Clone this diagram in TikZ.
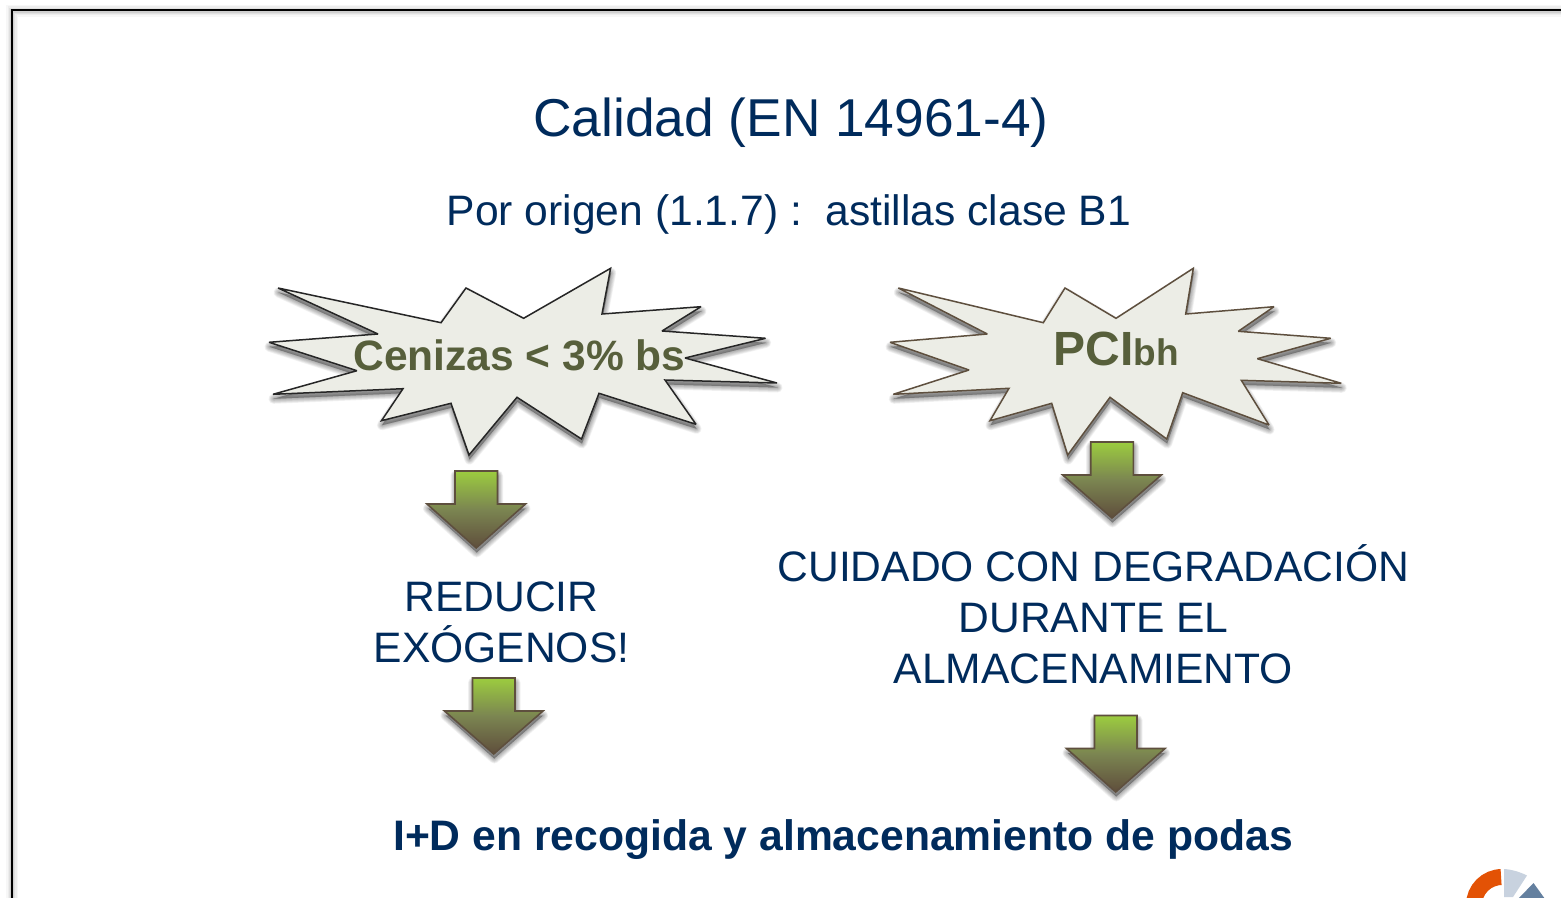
\documentclass[tikz,border=0pt]{standalone}
\usepackage{fontspec}
\setmainfont{Liberation Sans}
\usetikzlibrary{calc}
\definecolor{navy}{HTML}{002B5C}
\definecolor{olivetext}{HTML}{575F3B}
\definecolor{starfill}{HTML}{ECEDE6}
\definecolor{arrowline}{HTML}{5E4F3E}
\definecolor{arrowtop}{HTML}{9CCC3F}
\definecolor{arrowmid}{HTML}{7B8551}
\definecolor{arrowbot}{HTML}{5F4E3C}
\definecolor{logoorange}{HTML}{E35205}
\definecolor{logolight}{HTML}{C8D2DF}
\definecolor{logoblue}{HTML}{64809F}
\newcommand{\fs}[1]{\fontsize{#1}{#1}\selectfont}
\newcommand{\softshadow}[1]{%
  \foreach \r in {10,8.5,7,5.5,4,2.5,1}{
    \path[fill=black,draw=black,line width=\r pt,line join=round,opacity=0.05,transparency group] [shift={(0.5,4.5)}] #1;
  }}
\newcommand{\blockarrow}[5]{%
  \softshadow{(#1,#3) -- (#2,#3) -- (#2,#4) -- ({#2+27.5},#4) -- ({(#1+#2)/2},{#5-1}) -- ({#1-27.5},#4) -- (#1,#4) -- cycle}
  \path[arrowbody] (#1,#3) -- (#2,#3) -- (#2,#4) -- ({#2+28},#4) -- ({(#1+#2)/2},{#5-1}) -- ({#1-28},#4) -- (#1,#4) -- cycle;
}
\tikzset{
  arrowbody/.style={draw=arrowline,line width=1.6pt,line join=miter,miter limit=3,top color=arrowtop,bottom color=arrowbot,middle color=arrowmid},
  startone/.style={draw=black!85,line width=1.5pt,fill=starfill,line join=miter,miter limit=3},
  startwo/.style={draw=arrowline,line width=1.5pt,fill=starfill,line join=miter,miter limit=3},
  navytext/.style={text=navy,inner sep=0pt,align=center},
  startext/.style={text=olivetext,inner sep=0pt,font=\bfseries},
}
\begin{document}
\begin{tikzpicture}[x=1pt,y=-1pt]
\useasboundingbox (0,0) rectangle (1561,897);
\clip (0,0) rectangle (1561,897);
\fill[white] (0,0) rectangle (1561,897);
% slide frame
\foreach \r/\o in {12/0.03,9/0.04,6/0.05,4/0.07}{
  \draw[black,line width=\r pt,opacity=\o] (12,900) -- (12,10.5) -- (1565,10.5);
}
\draw[black,line width=2pt] (12,900) -- (12,9.5) -- (1565,9.5);
% titles
\node[navytext,font=\fs{53.3}] (title) at (791,123) {Calidad (EN 14961-4)};
\node[navytext,font=\fs{42.6}] (sub) at (789,214) {Por origen (1.1.7) :\ \ astillas clase B1};
% star one
\def\starA{(278,288) -- (441,322.7) -- (466,288) -- (523.6,318.3) -- (610.6,268.3) -- (602,314) -- (701,306.7) -- (662,331) -- (765.6,338.3) -- (685,358) -- (777,383) -- (665,380) -- (696,424.3) -- (599,393.3) -- (581.5,439) -- (517,397.3) -- (469,455) -- (451,403.3) -- (381.5,420.7) -- (403,388.7) -- (273,394.3) -- (357,370.7) -- (269,342.3) -- (378,334) -- cycle}
\softshadow{\starA}
\path[startone] \starA;
\node[startext,font=\fs{42.5}\bfseries] (ash) at (519.5,355) {Cenizas < 3\% bs};
% star two
\def\starB{(898.3,288) -- (1043.3,322.7) -- (1065,288) -- (1116,318.3) -- (1193.3,268.3) -- (1185.7,314) -- (1274,306.7) -- (1238.3,331.3) -- (1330.7,338.3) -- (1257.3,358.7) -- (1341.3,383.3) -- (1241.3,380.3) -- (1269,425) -- (1182.7,392.7) -- (1166.7,439) -- (1110,397.3) -- (1067.7,455) -- (1051.7,403.3) -- (990,420.7) -- (1009,388.3) -- (893.3,394.3) -- (969,370) -- (890,342.3) -- (987.3,334) -- cycle}
\softshadow{\starB}
\path[startwo] \starB;
\node[startext,anchor=base] (pci) at (1116,365) {\fs{48}\bfseries PCI\fs{37}\bfseries bh};
% arrows
\blockarrow{455}{497.5}{471}{504}{549}
\blockarrow{1090.7}{1133.3}{442}{475}{519}
\blockarrow{472.5}{515}{678}{711}{755}
\blockarrow{1094.5}{1137}{715.5}{748.5}{793}
% body text
\node[navytext,font=\fs{42.6}] (reduce) at (501.5,622.5) {REDUCIR\\[8.5pt]EXÓGENOS!};
\node[navytext,font=\fs{42.6}] (care) at (1093.5,614.5) {CUIDADO CON DEGRADACIÓN\\[8.5pt]DURANTE EL\\[8.5pt]ALMACENAMIENTO};
\node[navytext,font=\fs{42.66}\bfseries] (id) at (843,840) {I+D en recogida y almacenamiento de podas};
% logo
\begin{scope}
\clip (1440,860) -- (1500,860) -- (1502.5,900) -- (1440,900) -- cycle;
\draw[logoorange,line width=16pt] (1502,905) circle[radius=28pt];
\end{scope}
\fill[logolight] (1504,869) .. controls (1512,869.5) and (1520,872) .. (1527,875.5) -- (1513,897) -- (1504,897) -- cycle;
\fill[logoblue] (1533.5,883) -- (1545,899) -- (1518,899) -- cycle;
\end{tikzpicture}
\end{document}
